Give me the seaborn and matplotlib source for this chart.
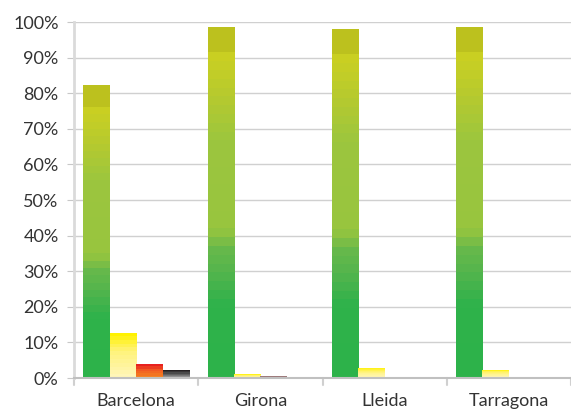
import matplotlib
matplotlib.use("Agg")
import matplotlib.pyplot as plt
import seaborn as sns
import pandas as pd
import numpy as np
from matplotlib.colors import LinearSegmentedColormap

# values (percent)
provinces = ["Barcelona", "Girona", "Lleida", "Tarragona"]
series_a = [82.3, 98.6, 98.1, 98.6]
series_b = [12.7, 1.1, 2.9, 2.3]
series_c = [3.9, 0.6, 0.0, 0.0]
series_d = [2.3, 0.0, 0.0, 0.0]
series_names = ["A", "B", "C", "D"]
y_ticks = list(range(0, 101, 10))

# gradient colormaps, bottom -> top of each bar
gradients = {
    "A": LinearSegmentedColormap.from_list("a", [
        (0.0, "#2db24a"), (0.2, "#2fb24b"), (0.3, "#55b54d"), (0.36, "#66b94b"),
        (0.42, "#98c53f"), (0.68, "#9cc63e"), (0.8, "#b5ca30"), (0.929, "#cbd022"),
        (0.93, "#bcc11e"), (1.0, "#bcc11e")], N=40),
    "B": LinearSegmentedColormap.from_list("b", [
        (0.0, "#fff6b8"), (0.6, "#fff37a"), (1.0, "#fff200")], N=12),
    "C": LinearSegmentedColormap.from_list("c", [
        (0.0, "#f58220"), (0.6, "#f15a22"), (1.0, "#e8211f")], N=6),
    "D": LinearSegmentedColormap.from_list("d", [
        (0.0, "#8c8c8c"), (0.5, "#555555"), (1.0, "#231f20")], N=6),
}

df = pd.DataFrame({
    "Provincia": provinces * 4,
    "Serie": np.repeat(series_names, len(provinces)),
    "Valor": series_a + series_b + series_c + series_d,
})

sns.set_style("white")
plt.rcParams["font.family"] = ["Lato", "DejaVu Sans"]

fig = plt.figure(figsize=(5.71, 4.12), dpi=100)
ax = fig.add_axes([0.1296, 0.0825, 0.8704, 0.8641])

sns.barplot(data=df, x="Provincia", y="Valor", hue="Serie", order=provinces,
            hue_order=series_names, width=0.85, legend=False, ax=ax,
            palette=["#2db24a", "#fff200", "#e8211f", "#231f20"], linewidth=0)

# replace flat fills with vertical gradients
for i, name in enumerate(series_names):
    for p in ax.containers[i].patches:
        h = p.get_height()
        if h <= 0:
            continue
        x0 = p.get_x()
        w = p.get_width()
        cmap = gradients[name]
        if h < 1:  # tiny bars read as a muddy mauve in the original
            cmap = LinearSegmentedColormap.from_list("t", ["#a07f80", "#9a7374"])
        grad = np.linspace(0, 1, 200).reshape(-1, 1)
        im = ax.imshow(grad, cmap=cmap, origin="lower", aspect="auto",
                       extent=[x0, x0 + w, 0, h], zorder=2, interpolation="nearest")
        im.set_clip_path(p)
        p.set_facecolor("none")

ax.set_xlim(-0.5, 3.5)
ax.set_ylim(0, 100)
ax.set_yticks(y_ticks)
ax.set_yticklabels([f"{t}%" for t in y_ticks])
ax.set_xticks(range(len(provinces)))
ax.set_xticklabels(provinces)
ax.set_xlabel("")
ax.set_ylabel("")

ax.set_axisbelow(True)
ax.yaxis.grid(True, color="#d0d0d0", linewidth=1)
ax.xaxis.grid(False)

for s in ["top", "right"]:
    ax.spines[s].set_visible(False)
ax.spines["left"].set_color("#dadada")
ax.spines["left"].set_linewidth(2)
ax.spines["bottom"].set_color("#c0c0c0")
ax.spines["bottom"].set_linewidth(1.5)

ax.tick_params(axis="y", left=True, length=5, color="#c8c8c8", labelsize=13,
               labelcolor="#333333", pad=6)
ax.tick_params(axis="x", bottom=False, labelsize=13, labelcolor="#333333", pad=7)

# tick marks at category boundaries
for xb in [-0.5, 0.5, 1.5, 2.5, 3.5]:
    ax.plot([xb, xb], [0, -2], color="#d0d0d0", linewidth=1.5, clip_on=False)

fig.savefig("out.png", dpi=100)
